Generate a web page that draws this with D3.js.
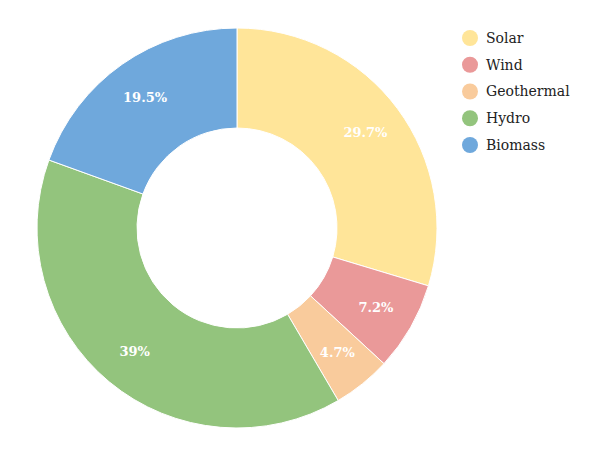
<!DOCTYPE html>
<html><head><meta charset="utf-8">
<script src="https://cdn.jsdelivr.net/npm/d3@7"></script>
<style>body{margin:0;background:#fff}</style>
</head><body>
<svg id="c" width="600" height="472"></svg>
<script>
const categories = ["Solar","Wind","Geothermal","Hydro","Biomass"];
const values = [29.7, 7.2, 4.7, 39, 19.5];
const labels = ["29.7%","7.2%","4.7%","39%","19.5%"];
const colors = ["#ffe599","#ea9999","#f9cb9c","#93c47d","#6fa8dc"];

const svg = d3.select("#c");
const cx = 237, cy = 228, R = 200, r = 100;
const g = svg.append("g").attr("transform", `translate(${cx},${cy})`);
const pie = d3.pie().sort(null).value(d => d)(values);
const arc = d3.arc().innerRadius(r).outerRadius(R);
const lab = d3.arc().innerRadius(160).outerRadius(160);
g.selectAll("path").data(pie).join("path")
  .attr("d", arc).attr("fill", (d,i) => colors[i])
  .attr("stroke", "#fff").attr("stroke-width", 1);
g.selectAll("text").data(pie).join("text")
  .attr("transform", d => `translate(${lab.centroid(d)})`)
  .attr("text-anchor", "middle").attr("dy", "0.35em")
  .attr("fill", "#fff").attr("font-family", "DejaVu Serif, serif")
  .attr("font-weight", "bold").attr("font-size", 13)
  .text((d,i) => labels[i]);

const y = d3.scalePoint().domain(categories).range([38, 145]);
const lg = svg.append("g");
const it = lg.selectAll("g").data(categories).join("g")
  .attr("transform", d => `translate(470,${y(d)})`);
it.append("circle").attr("r", 8).attr("fill", (d,i) => colors[i]);
it.append("text").attr("x", 16).attr("dy", "0.35em")
  .attr("font-family", "DejaVu Serif, serif").attr("font-size", 14)
  .attr("fill", "#222").text(d => d);
</script>
</body></html>
